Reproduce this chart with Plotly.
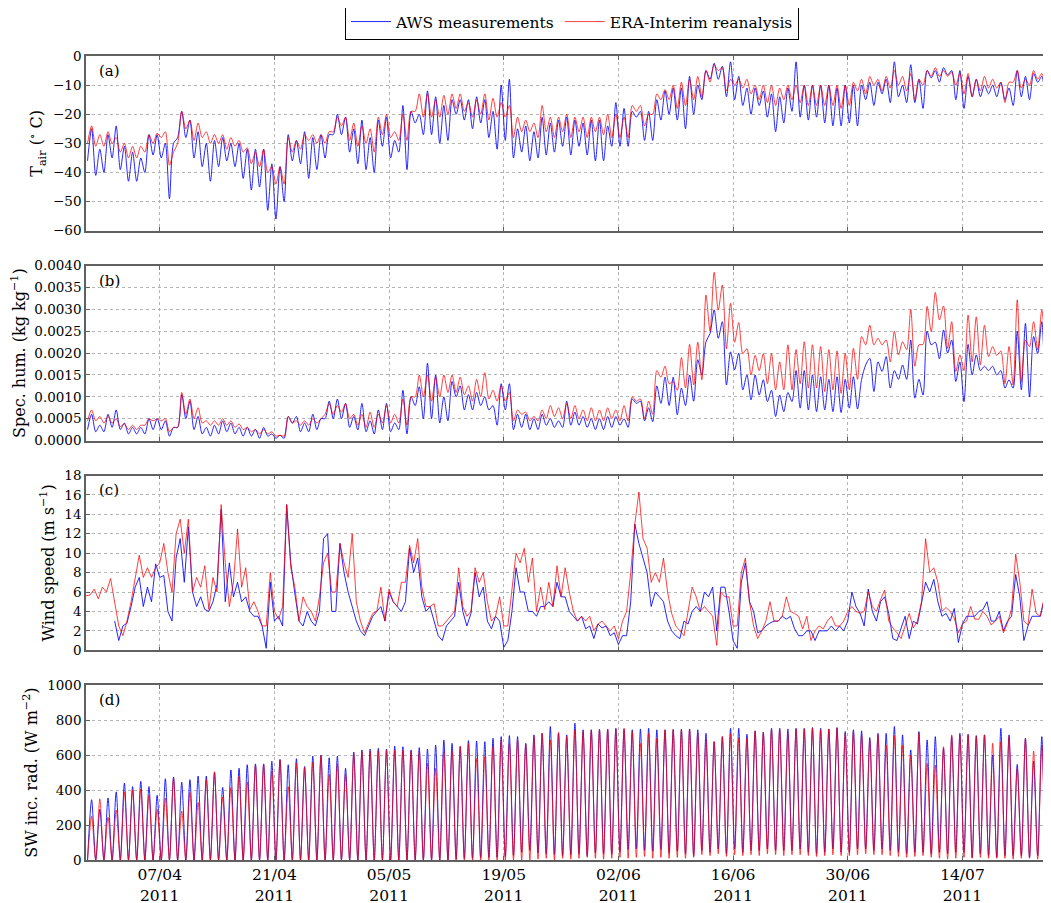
import pandas as pd
import plotly.graph_objects as go

# ---------------- data (one entry per day, 29/03 .. 24/07/2011) -------------
# Air temperature (deg C): nightly minimum and afternoon maximum
tair_aws_min = [-36, -41, -40, -35, -39, -43, -43, -40, -34, -35,
                -49, -28, -28, -35, -38, -43, -38, -36, -38, -42,
                -46, -45, -53, -56, -50, -36, -37, -42, -39, -35,
                -27, -27, -33, -37, -39, -40, -31, -35, -33, -39,
                -23, -27, -27, -30, -29, -20, -22, -25, -23, -28,
                -32, -29, -35, -33, -36, -35, -34, -33, -31, -34,
                -31, -34, -36, -36, -31, -31, -31, -21, -29, -29,
                -22, -20, -22, -25, -20, -15, -8, -8, -14, -15,
                -17, -20, -17, -21, -26, -23, -19, -21, -22, -21,
                -23, -24, -24, -23, -24, -15, -17, -13, -16, -14,
                -16, -16, -18, -7.5, -9, -6.5, -15, -18, -14, -14,
                -13, -14, -15, -17, -14, -15, -9, -14]
tair_aws_max = [-25, -32, -27, -24, -31, -33, -35, -27, -27, -30,
                -30, -19, -22, -26, -30, -29, -28, -30, -30, -32,
                -32, -32, -37, -38, -27, -29, -26, -28, -27, -27,
                -20, -21, -25, -22, -28, -22, -21, -29, -17, -19,
                -20, -12, -14, -17, -15, -15, -15, -14, -15, -19,
                -10, -8, -25, -24, -26, -21, -23, -22, -21, -22,
                -23, -22, -22, -24, -16, -18, -19, -19, -19, -15,
                -12, -11, -11, -7, -10, -5, -2.5, -3.5, -2, -7,
                -11, -11, -12, -13, -14, -11, -2, -10, -10, -10,
                -10, -11, -10, -10, -10, -9, -9, -8, -2, -10,
                -3, -8, -5, -5, -4, -5, -5, -7, -8, -10,
                -10, -9, -11, -5, -7, -6, -7, -8]
tair_era_min = [-30, -31, -31, -30, -33, -35, -35, -33, -30, -28,
                -37.5, -30, -25, -29, -28, -30, -30, -32, -31, -33,
                -37, -38, -40, -44, -44, -33, -32, -29, -30, -30,
                -26, -24, -29, -31, -30, -33, -27, -28, -29, -29,
                -19, -21, -21, -21, -20, -18, -19, -21, -20, -22,
                -21, -21, -28, -26, -26, -28, -26, -28, -26, -28,
                -26, -28, -26, -27, -28, -28, -28, -19, -24, -20,
                -15, -15, -18, -17, -15, -14, -9, -5, -12, -10,
                -11, -13, -15, -16, -17, -15, -15, -16, -17, -17,
                -17, -17, -18, -17, -12, -13, -10, -12, -11, -10,
                -12, -15, -10, -7, -7, -7, -10, -13, -14, -12,
                -11, -11, -16, -9, -11, -10, -8, -11]
tair_era_max = [-24, -27, -26, -28, -30, -31, -31, -27, -26.5, -26,
                -33, -19, -22, -23, -26, -27, -27, -28, -29, -31.5,
                -33, -32, -38, -38, -28, -29, -27, -27, -27, -26,
                -21, -21, -23, -24, -25, -21, -20, -26, -20, -19,
                -13, -13, -15, -13.5, -13, -13, -16, -15, -13, -14.5,
                -16, -17, -21, -22, -23, -17, -21, -21, -20, -21,
                -21, -21, -21, -20, -20, -21, -17, -17, -20, -13,
                -11.5, -10, -9, -8, -7, -5, -3, -4, -8, -8,
                -8, -10, -10, -10, -11, -10, -10, -10, -10, -10,
                -10, -10, -10, -9, -8, -7, -8, -7, -5, -7,
                -6, -8, -5, -4, -5, -5.5, -6, -6, -8, -7,
                -8, -9, -9, -5, -8, -5, -6, -6]

# Specific humidity (units of 1e-4 kg/kg): daily minimum and maximum
q_aws_min = [2.5, 2, 2, 3, 2.5, 1.5, 1.5, 1.5, 2.5, 2.5,
             1, 3, 5, 2.5, 1.5, 1, 1.5, 2, 1.5, 1,
             1, 0.5, 1, 0.5, 0.5, 4, 2, 2, 2.5, 5,
             5, 5, 3, 2.4, 2, 1.5, 2.5, 2, 2.5, 1.5,
             8, 5, 5, 4, 4.5, 10, 7, 7, 8, 7,
             3.5, 7, 2.5, 3, 2.5, 2.5, 3.5, 3, 3, 3.5,
             3.5, 3, 2.5, 2.5, 3, 3.5, 3, 8.5, 4.5, 4.3,
             8.5, 8, 5.9, 8, 9, 15, 24.5, 23.4, 12.7, 16.2,
             11.6, 9.3, 10.4, 8.9, 5.5, 6.6, 8.9, 7.4, 7, 6.6,
             7, 6.6, 6.4, 7.4, 7.2, 17.3, 11.2, 15.8, 12, 14,
             14, 9.7, 10.4, 21.9, 18.7, 20, 13.5, 8.9, 15, 16,
             16, 15, 12, 12, 11.6, 10, 19.9, 13]
q_aws_max = [6, 3.5, 6, 7, 4, 3, 3, 5, 5, 4.5,
             3, 10.5, 9, 5.5, 3, 3.5, 4.5, 4, 3, 3,
             2.5, 3, 1.5, 1.2, 5.5, 5.5, 4, 6, 5, 9,
             9.5, 8.5, 5.5, 8.5, 4.5, 7, 8.5, 4, 11.5, 10,
             12.3, 17.7, 15, 10, 13.5, 12.5, 10.5, 11, 10, 8,
             13, 13, 6, 6, 5, 6, 5, 4.5, 9, 6.5,
             5.5, 5, 5, 5.5, 5.5, 5, 9.5, 9, 7.5, 12.5,
             14.5, 14.5, 12, 15, 18.5, 22.6, 29.9, 27.2, 20.3, 20,
             15, 15, 13.9, 11.5, 10.4, 11, 16, 16, 15, 14.6,
             14, 14.6, 14, 14.6, 14, 18.8, 18, 19.2, 16, 17.3,
             23, 14, 25, 22.5, 25.3, 23, 18, 22, 19.6, 17,
             17, 16, 13.9, 25, 26.8, 23.8, 27.2, 17.3]
q_era_min = [4.5, 4.5, 4, 4, 3.2, 2.5, 2.5, 3.5, 4.5, 4.5,
             2, 3, 6, 5, 4, 3.5, 3.5, 3.5, 3, 2.5,
             2, 1.5, 1.5, 1, 1, 4, 3.5, 3.5, 4, 6,
             6, 6.5, 5, 3.5, 3, 3, 4, 4, 4, 3.5,
             10, 10, 9, 10, 11, 11, 10.5, 9, 10, 9.5,
             9, 9, 4.5, 6, 4.5, 4.5, 5, 5.5, 5, 5,
             5, 4.5, 4.5, 4.5, 5, 4.5, 4.5, 9, 5, 6,
             14.5, 13, 11.5, 12, 12.7, 13.9, 25, 29.9, 21, 22.5,
             19.9, 15, 16, 13, 11.6, 11.6, 11.6, 13, 12, 12,
             11.2, 11.6, 10.8, 11.6, 14, 21.9, 21.9, 21.9, 18, 19.6,
             20.8, 17, 22, 24.9, 27.6, 21.1, 15.8, 16, 18, 17.3,
             19.2, 19.5, 13, 12.7, 13.5, 21.5, 20.8, 21]
q_era_max = [7, 5.5, 5.5, 5, 3.8, 3.5, 3.5, 5, 5, 5,
             3, 11, 9.5, 7.5, 4.5, 4.5, 5, 4.5, 3.8, 3,
             2.5, 2.5, 2, 1.2, 5.5, 4.5, 4.5, 5, 5, 8.5,
             8, 8.5, 6, 6, 6.5, 6, 8, 6, 9.5, 10,
             15, 15, 14.5, 15, 15, 14.5, 12.5, 14, 15.5, 11.5,
             12.5, 11, 7, 6.5, 5.5, 7, 8, 7.5, 8.5, 8,
             7, 7.5, 7, 7.5, 7, 8, 10, 9.5, 9, 16,
             17, 13.5, 19, 22, 22.5, 33.3, 38.5, 35.6, 31.4, 27,
             21, 19.5, 19.9, 19.9, 18, 21.9, 20.8, 22.6, 21.9, 21.5,
             20.8, 20.5, 20, 21.1, 23.8, 26.4, 23.4, 23, 25, 22.6,
             30, 21.9, 30.7, 33.9, 30.8, 27.2, 19.6, 28.7, 28.3, 26.4,
             21.5, 20.5, 21.5, 32.2, 23, 27.2, 29.9, 29.5]

# Wind speed (m/s), every 12 h from 29/03 00 UTC (AWS record starts on 01/04)
wind_aws = [None, None, None, None, None, None, None, 3.0, 1.0, 2.5,
            2.8, 4.5, 6.5, 7.5, 4.5, 6.5, 5.0, 8.9, 7.5, 7.7,
            4.0, 3.0, 9.5, 11.5, 7.0, 12.7, 6.0, 4.5, 5.5, 4.2,
            4.0, 5.0, 6.8, 14.5, 5.0, 9.0, 5.5, 7.0, 5.0, 5.5,
            4.0, 3.5, 3.5, 2.5, 0.2, 7.0, 3.0, 3.5, 2.5, 15.0,
            9.0, 5.8, 3.0, 2.5, 4.0, 3.0, 2.5, 4.0, 11.5, 12.0,
            4.0, 4.0, 11.0, 8.0, 6.0, 4.5, 3.0, 2.0, 1.5, 2.5,
            3.5, 4.0, 4.5, 3.0, 6.0, 5.0, 4.5, 4.0, 5.0, 10.5,
            8.0, 9.5, 5.5, 4.0, 4.5, 3.0, 1.5, 1.0, 2.5, 3.0,
            3.5, 7.0, 4.0, 2.5, 3.8, 8.0, 5.5, 6.5, 3.0, 2.2,
            3.5, 3.0, 0.3, 1.0, 4.0, 8.5, 6.0, 6.0, 4.0, 4.0,
            3.5, 4.5, 4.5, 5.0, 4.5, 7.0, 5.5, 5.5, 4.0, 3.5,
            3.0, 3.5, 2.2, 2.5, 1.2, 2.7, 2.3, 2.5, 1.5, 1.8,
            0.6, 1.5, 1.5, 5.0, 13.0, 11.0, 9.5, 8.0, 4.5, 6.0,
            5.5, 5.0, 3.0, 2.0, 1.5, 1.2, 3.0, 2.7, 4.0, 4.5,
            4.0, 6.0, 5.5, 6.5, 2.0, 6.5, 6.5, 4.0, 1.0, 0.2,
            7.0, 9.0, 5.0, 4.0, 1.8, 2.0, 2.5, 2.8, 3.0, 3.0,
            3.5, 3.2, 3.5, 2.2, 1.5, 1.5, 2.0, 2.0, 1.0, 2.0,
            2.0, 2.0, 2.5, 2.0, 2.5, 2.0, 3.0, 6.0, 4.5, 3.8,
            2.5, 6.3, 4.0, 3.0, 5.0, 5.5, 3.8, 1.2, 1.0, 2.3,
            3.5, 1.2, 3.0, 2.7, 5.0, 7.0, 6.0, 7.3, 5.0, 3.5,
            3.8, 3.0, 4.3, 0.8, 2.7, 3.5, 3.5, 3.5, 4.0, 4.2,
            5.0, 3.0, 3.0, 4.0, 2.0, 3.0, 3.5, 7.8, 5.5, 1.0,
            2.5, 3.5, 3.5, 3.5, 5.3, 4.8]
wind_era = [5.6, 5.7, 6.3, 5.3, 6.5, 6.0, 7.4, 5.0, 2.5, 1.5,
            3.0, 5.0, 7.5, 9.8, 7.5, 8.5, 7.5, 8.5, 9.0, 11.0,
            8.0, 6.0, 12.0, 13.5, 10.0, 13.5, 6.0, 7.5, 6.5, 8.7,
            4.2, 7.5, 6.0, 15.0, 9.0, 4.5, 7.0, 12.5, 6.5, 8.5,
            4.2, 5.0, 4.0, 2.5, 2.5, 8.0, 4.0, 3.2, 4.5, 15.0,
            8.5, 6.5, 3.0, 5.5, 4.5, 4.0, 3.0, 5.5, 9.0, 10.0,
            6.0, 6.0, 11.0, 9.0, 7.5, 12.0, 5.0, 3.0, 1.8, 2.8,
            3.8, 4.0, 6.5, 3.0, 6.3, 5.0, 4.5, 7.0, 7.0, 10.8,
            9.0, 11.5, 6.5, 4.5, 4.5, 4.8, 2.5, 2.5, 3.0, 3.5,
            4.0, 8.5, 4.5, 3.5, 4.0, 8.5, 7.0, 8.0, 5.0, 3.0,
            3.5, 5.5, 2.5, 2.5, 6.5, 10.0, 9.0, 10.5, 7.0, 9.5,
            4.0, 6.5, 4.2, 7.0, 4.5, 8.7, 5.5, 8.5, 6.0, 4.0,
            3.0, 3.5, 3.0, 3.5, 2.0, 2.7, 3.0, 2.5, 2.0, 2.5,
            1.2, 3.0, 4.0, 8.0, 13.0, 16.3, 11.5, 10.5, 7.0, 8.0,
            7.0, 9.5, 6.0, 3.8, 2.5, 2.0, 1.5, 4.0, 6.5, 5.5,
            4.0, 4.5, 4.0, 3.5, 0.5, 6.0, 5.5, 5.5, 2.5, 2.5,
            8.0, 9.5, 5.0, 2.5, 1.2, 2.0, 3.0, 5.0, 3.0, 3.0,
            3.5, 5.5, 4.0, 3.8, 3.5, 2.2, 3.5, 1.0, 2.0, 2.5,
            2.2, 3.0, 3.5, 2.5, 2.5, 3.0, 4.0, 4.5, 4.0, 3.8,
            4.0, 6.0, 4.5, 4.0, 5.2, 6.2, 3.0, 2.3, 1.8, 1.2,
            2.5, 3.8, 2.3, 3.0, 5.0, 11.5, 8.0, 8.5, 7.0, 4.0,
            4.4, 4.0, 3.3, 1.8, 2.7, 3.0, 4.5, 3.2, 3.2, 4.0,
            3.5, 2.6, 3.0, 3.5, 1.8, 2.8, 4.3, 9.9, 7.0, 3.0,
            2.6, 6.3, 3.8, 3.5, 5.5, 7.0]

# Incoming shortwave radiation (W/m2): daily peak and night-time minimum
sw_aws_peak = [345, 290, 355, 390, 440, 420, 450, 420, 370, 465,
               475, 445, 460, 480, 480, 500, 415, 515, 525, 545,
               550, 550, 565, 575, 545, 580, 535, 595, 600, 585,
               595, 525, 618, 630, 635, 639, 635, 652, 648, 630,
               643, 635, 658, 687, 668, 648, 683, 681, 677, 697,
               706, 712, 706, 668, 716, 725, 764, 725, 716, 783,
               745, 745, 748, 748, 754, 748, 745, 750, 754, 745,
               745, 748, 748, 750, 745, 725, 677, 706, 754, 754,
               720, 739, 731, 754, 754, 750, 754, 754, 758, 754,
               750, 758, 735, 745, 739, 701, 725, 725, 764, 716,
               630, 735, 687, 706, 639, 706, 725, 720, 712, 716,
               601, 754, 716, 547, 697, 566, 706, 687]
sw_era_peak = [250, 350, 245, 285, 390, 400, 405, 370, 290, 355,
               470, 280, 390, 330, 460, 505, 360, 415, 480, 445,
               545, 548, 510, 575, 420, 555, 530, 560, 598, 490,
               550, 490, 610, 620, 624, 624, 629, 629, 629, 624,
               624, 553, 524, 620, 624, 652, 668, 581, 591, 648,
               687, 668, 687, 662, 706, 725, 687, 731, 706, 745,
               735, 745, 748, 750, 750, 754, 735, 668, 725, 697,
               745, 745, 748, 750, 725, 687, 677, 706, 725, 697,
               697, 739, 731, 750, 750, 725, 750, 750, 754, 745,
               750, 754, 725, 735, 716, 687, 716, 658, 712, 658,
               601, 725, 553, 543, 648, 716, 716, 716, 706, 716,
               668, 677, 706, 524, 697, 624, 658, 681]
sw_aws_night = [0, 0, 0, 0, 0, 0, 0, 0, 0, 0,
                0, 0, 0, 0, 0, 0, 0, 0, 0, 0,
                0, 0, 0, 0, 0, 0, 0, 0, 0, 0,
                0, 0, 0, 0, 0, 0, 0, 0, 0, 0,
                0, 0, 0, 0, 0, 5, 8, 10, 12, 15,
                15, 20, 25, 44, 54, 40, 35, 30, 25, 30,
                35, 25, 40, 35, 33, 45, 60, 63, 55, 50,
                60, 40, 50, 35, 25, 54, 44, 63, 35, 63,
                44, 54, 54, 63, 54, 54, 54, 63, 44, 35,
                44, 63, 44, 44, 63, 63, 54, 63, 54, 44,
                35, 44, 44, 35, 44, 35, 44, 44, 15, 35,
                25, 15, 25, 25, 25, 15, 25, 15]
sw_era_night = [0, 0, 0, 0, 0, 0, 0, 0, 0, 0,
                0, 0, 0, 0, 0, 0, 0, 0, 0, 0,
                0, 0, 0, 0, 0, 0, 0, 0, 0, 0,
                0, 0, 0, 0, 0, 0, 0, 0, 0, 0,
                0, 0, 0, 0, 0, 0, 0, 0, 0, 0,
                0, 0, 0, 0, 0, 5, 10, 0, 10, 5,
                10, 15, 10, 5, 10, 15, 10, 15, 20, 10,
                15, 10, 15, 10, 15, 30, 25, 35, 20, 30,
                25, 30, 25, 35, 30, 25, 30, 30, 25, 20,
                25, 30, 25, 25, 30, 35, 30, 30, 25, 20,
                15, 20, 25, 15, 10, 5, 10, 15, 10, 15,
                10, 10, 10, 5, 10, 10, 5, 10]

tick_dates = ["2011-04-07", "2011-04-21", "2011-05-05", "2011-05-19",
              "2011-06-02", "2011-06-16", "2011-06-30", "2011-07-14"]
tick_labels = ["07/04<br>2011", "21/04<br>2011", "05/05<br>2011", "19/05<br>2011",
               "02/06<br>2011", "16/06<br>2011", "30/06<br>2011", "14/07<br>2011"]

# ---------------- build time axes ----------------
start = pd.Timestamp("2011-03-29")
n_days = len(tair_aws_min)


def daily_pairs(low, high):
    t, v = [], []
    for d in range(n_days):
        t.append(start + pd.Timedelta(days=d, hours=4.5))
        v.append(low[d])
        t.append(start + pd.Timedelta(days=d, hours=16.5))
        v.append(high[d])
    return t, v


t_wind = [start + pd.Timedelta(hours=12 * k) for k in range(len(wind_era))]

BLUE = "rgba(0,0,255,0.85)"
RED = "rgba(255,0,0,0.75)"
FONT = "DejaVu Serif"

fig = go.Figure()

panels = [
    (daily_pairs(tair_aws_min, tair_aws_max), daily_pairs(tair_era_min, tair_era_max), 1.0),
    (daily_pairs(q_aws_min, q_aws_max), daily_pairs(q_era_min, q_era_max), 1e-4),
    (None, None, 1.0),
    (daily_pairs(sw_aws_night, sw_aws_peak), daily_pairs(sw_era_night, sw_era_peak), 1.0),
]

for i, (aws, era, scale) in enumerate(panels):
    xa = "x" if i == 0 else f"x{i + 1}"
    ya = "y" if i == 0 else f"y{i + 1}"
    if i == 2:
        ta, va = t_wind, wind_aws
        te, ve = t_wind, wind_era
        shape = "linear"
    else:
        ta, va = aws[0], [v * scale for v in aws[1]]
        te, ve = era[0], [v * scale for v in era[1]]
        shape = "spline"
    fig.add_trace(go.Scatter(x=ta, y=va, mode="lines", name="AWS measurements",
                             line=dict(color=BLUE, width=1, shape=shape, smoothing=0.8),
                             showlegend=(i == 0), xaxis=xa, yaxis=ya))
    fig.add_trace(go.Scatter(x=te, y=ve, mode="lines", name="ERA-Interim reanalysis",
                             line=dict(color=RED, width=1, shape=shape, smoothing=0.8),
                             showlegend=(i == 0), xaxis=xa, yaxis=ya))

# page body adds an 8 px offset; figure is sized so the plot lands where the reference has it
W, HH = 1043, 895
T, B = 48, 43
H = HH - T - B
GAP = 35.0
PH = (H - 3 * GAP) / 4.0
domains = []
for i in range(4):
    top = H - i * (PH + GAP)
    domains.append([(top - PH) / H, top / H])
domains[0][1] = 1.0
domains[3][0] = 0.0

ycfg = [
    dict(range=[-60, 0], dtick=10, title="T<sub>air</sub> (<sup>∘</sup> C)"),
    dict(range=[0, 0.004], dtick=0.0005, tickformat=".4f", title="Spec. hum. (kg kg<sup>−1</sup>)"),
    dict(range=[0, 18], dtick=2, title="Wind speed (m s<sup>−1</sup>)"),
    dict(range=[0, 1000], dtick=200, title="SW inc. rad. (W m<sup>−2</sup>)"),
]
labels = ["(a)", "(b)", "(c)", "(d)"]
xrange_ = ["2011-03-29 00:00", "2011-07-24 16:30"]
FRAME = "#606060"
GRID = "#b4b4b4"

layout = dict(
    width=W, height=HH,
    margin=dict(l=78, r=1, t=T, b=B, autoexpand=False),
    paper_bgcolor="white", plot_bgcolor="white",
    font=dict(family=FONT, size=14, color="black"),
    legend=dict(orientation="h", x=0.5 + 4 / 964, xanchor="center", y=1 + 52 / H, yanchor="top",
                bordercolor="black", borderwidth=1, font=dict(size=15.5, family=FONT),
                bgcolor="white", itemwidth=40, traceorder="normal"),
    annotations=[],
)

for i in range(4):
    xk = "xaxis" if i == 0 else f"xaxis{i + 1}"
    yk = "yaxis" if i == 0 else f"yaxis{i + 1}"
    ya = "y" if i == 0 else f"y{i + 1}"
    xa = "x" if i == 0 else f"x{i + 1}"
    layout[xk] = dict(
        type="date", range=xrange_, domain=[0, 1], anchor=ya,
        tickmode="array", tickvals=tick_dates, ticktext=tick_labels,
        showticklabels=(i == 3), ticks="inside", ticklen=4, tickcolor=FRAME,
        showgrid=True, gridcolor=GRID, griddash="dot", gridwidth=1,
        showline=True, linecolor=FRAME, linewidth=1.5, mirror="ticks",
        zeroline=False, tickfont=dict(size=15.5, family=FONT),
        automargin=False,
    )
    if i > 0:
        layout[xk]["matches"] = "x"
    c = ycfg[i]
    layout[yk] = dict(
        domain=domains[i], anchor=xa, range=c["range"], dtick=c["dtick"], tick0=0,
        tickformat=c.get("tickformat", None),
        title=dict(text=c["title"], font=dict(size=16, family=FONT), standoff=6),
        ticks="inside", ticklen=4, tickcolor=FRAME,
        showgrid=True, gridcolor=GRID, griddash="dot", gridwidth=1,
        showline=True, linecolor=FRAME, linewidth=1.5, mirror="ticks",
        zeroline=False, tickfont=dict(size=13.5, family=FONT), automargin=False,
    )
    layout["annotations"].append(dict(
        text=labels[i], xref=f"{xa} domain", yref=f"{ya} domain",
        x=0.011, y=0.915, xanchor="left", yanchor="middle", showarrow=False,
        font=dict(size=15, family=FONT)))

fig.update_layout(**layout)
fig.write_html("out.html")
